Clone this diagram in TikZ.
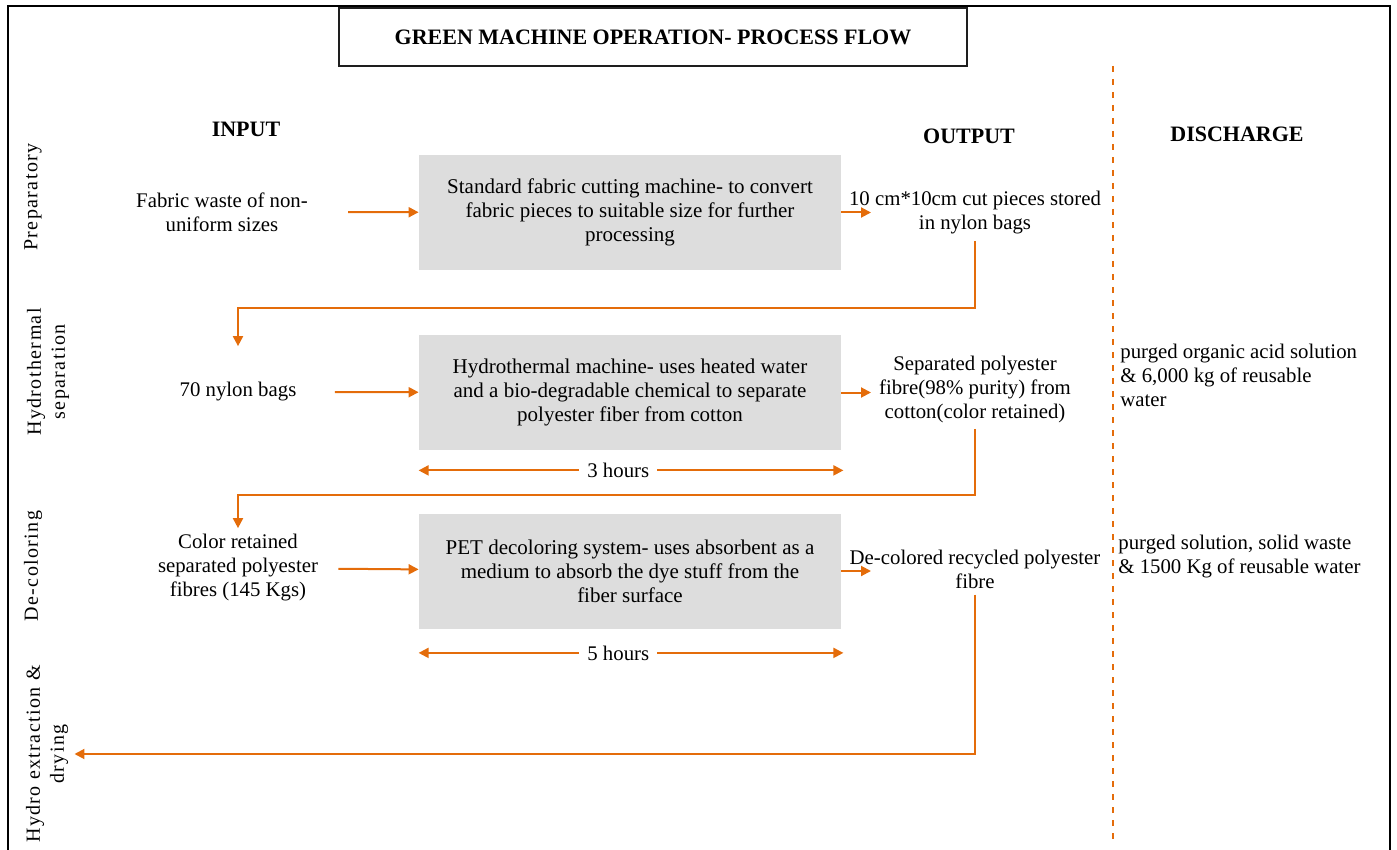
\documentclass[tikz,border=0pt]{standalone}
\usepackage{fontspec}
\setmainfont{Liberation Serif}
\newfontfamily\bodyfont{Liberation Serif}
\newfontfamily\sidefont[LetterSpace=7]{Liberation Serif}
\usepackage{xcolor}
\usepackage{tikz}
\usetikzlibrary{arrows.meta}
\definecolor{gmOrange}{RGB}{228,108,10}
\definecolor{gmGrey}{RGB}{221,221,221}
\definecolor{gmInk}{RGB}{30,30,30}
\tikzset{
machbox/.style={rectangle,fill=gmGrey,minimum width=211pt,minimum height=57.5pt,inner sep=0pt,align=center,font=\bodyfont\fontsize{10.5}{12}\selectfont},
flowtext/.style={align=center,inner sep=3pt,font=\bodyfont\fontsize{10.4}{12}\selectfont},
dischtext/.style={anchor=west,align=left,inner sep=0pt,font=\bodyfont\fontsize{10.4}{12}\selectfont},
heading/.style={font=\bodyfont\fontsize{11}{13}\selectfont\bfseries},
phase/.style={rotate=90,align=center,inner sep=3pt,font=\fontsize{10}{12}\sidefont},
titlebox/.style={rectangle,draw=gmInk,line width=0.6pt,minimum width=314pt,minimum height=29pt,font=\bodyfont\fontsize{11}{12}\selectfont\bfseries},
hours/.style={fill=white,inner xsep=4pt,inner ysep=1pt,font=\bodyfont\fontsize{10.4}{12}\selectfont},
flow/.style={-{Triangle[length=5pt,width=5pt]},line width=1pt,draw=gmOrange},
dur/.style={{Triangle[length=5pt,width=5pt]}-{Triangle[length=5pt,width=5pt]},line width=1pt,draw=gmOrange},
divider/.style={draw=gmOrange,line width=1pt,dash pattern=on 3pt off 3.5pt}
}
\begin{document}
\begin{tikzpicture}[x=0.5pt,y=-0.5pt]
\useasboundingbox (0,0) rectangle (1397,850);
\draw[line width=1pt] (8,850) -- (8,6) -- (1390,6) -- (1390,850);
\node[titlebox] (title) at (653,37) {GREEN MACHINE OPERATION- PROCESS FLOW};
\node[heading] (hin) at (246,129) {INPUT};
\node[heading] (hout) at (969,136) {OUTPUT};
\node[heading] (hdis) at (1237,134) {DISCHARGE};
\draw[divider] (1113,66) -- (1113,842);
% phases
\node[phase] (ph1) at (33,197) {Preparatory};
\node[phase] (ph2) at (48,372) {Hydrothermal\\separation};
\node[phase] (ph3) at (33,566) {De-coloring};
\node[phase] (ph4) at (47,754) {Hydro extraction \&\\drying};
% machines
\node[machbox] (m1) at (630,212.5) {Standard fabric cutting machine- to convert\\fabric pieces to suitable size for further\\processing};
\node[machbox] (m2) at (630,392.5) {Hydrothermal machine- uses heated water\\and a bio-degradable chemical to separate\\polyester fiber from cotton};
\node[machbox] (m3) at (630,571) {PET decoloring system- uses absorbent as a\\medium to absorb the dye stuff from the\\fiber surface};
% inputs and outputs
\node[flowtext] (in1) at (222,212) {Fabric waste of non-\\uniform sizes};
\node[flowtext] (in2) at (238,392) {70 nylon bags};
\node[flowtext] (in3) at (238,568) {Color retained\\separated polyester\\fibres (145 Kgs)};
\node[flowtext] (out1) at (975,213) {10 cm*10cm cut pieces stored\\in nylon bags};
\node[flowtext] (out2) at (975,389) {Separated polyester\\fibre(98\% purity) from\\cotton(color retained)};
\node[flowtext] (out3) at (975,569) {De-colored recycled polyester\\fibre};
\node[dischtext] (dis2) at (1120,375) {purged organic acid solution\\\& 6,000 kg of reusable\\water};
\node[dischtext] (dis3) at (1118,557) {purged solution, solid waste\\\& 1500 Kg of reusable water};
\coordinate (t1) at (871,212.5); \coordinate (t2) at (871,392.5); \coordinate (t3) at (871,571);
\coordinate (j1) at (975,308); \coordinate (j2) at (975,495);
% connectors
\draw[flow,shorten <=17pt] (in1) -- (m1); \draw[flow,shorten <=16pt] (in2) -- (m2); \draw[flow,shorten <=7pt] (in3) -- (m3);
\draw[flow] (m1.east) -- (t1); \draw[flow] (m2.east) -- (t2); \draw[flow] (m3.east) -- (t3);
\draw[flow,shorten >=15pt] (out1.south) -- (j1) -| (in2.north);
\draw[flow] (out2.south) -- (j2) -| (in3.north);
\draw[flow] (out3.south) |- (ph4.south);
\draw[dur] ([yshift=-10pt]m2.south west) -- node[pos=0.47,hours]{3 hours} ([yshift=-10pt,xshift=1pt]m2.south east);
\draw[dur] ([yshift=-12pt]m3.south west) -- node[pos=0.47,hours]{5 hours} ([yshift=-12pt,xshift=1pt]m3.south east);
\end{tikzpicture}
\end{document}
